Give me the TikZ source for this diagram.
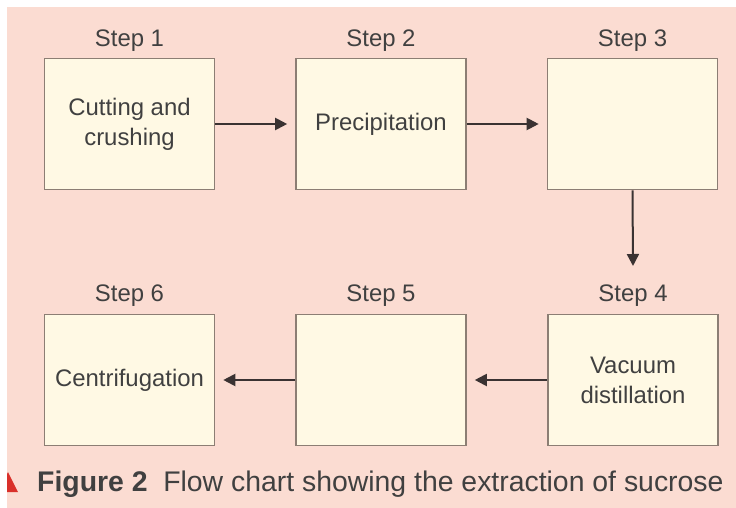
\documentclass[tikz,border=0pt]{standalone}
\usepackage{fontspec}
\setmainfont{Liberation Sans}
\usetikzlibrary{arrows.meta}
\definecolor{bgpink}{HTML}{FBDCD2}
\definecolor{boxfill}{HTML}{FFF9E4}
\definecolor{boxline}{HTML}{8C7E74}
\definecolor{txt}{HTML}{404040}
\definecolor{arr}{HTML}{3A3232}
\definecolor{capred}{HTML}{D9302A}
\tikzset{
  stepbox/.style={draw=boxline, line width=1.6bp, fill=boxfill, minimum width=170bp, minimum height=131bp, inner sep=0pt, align=center, font=\fontsize{24}{30}\selectfont, text=txt},
  steplabel/.style={font=\fontsize{24}{26}\selectfont, text=txt, inner sep=0pt},
  flow/.style={draw=arr, line width=2bp, -{Triangle[length=12bp,width=12bp]}, shorten >=8bp}
}
\begin{document}
\begin{tikzpicture}[x=1bp,y=-1bp]
\useasboundingbox (0,0) rectangle (736,508);
\fill[white] (0,0) rectangle (736,508);
\fill[bgpink] (7,7) rectangle (736,508);
\begin{scope}
\clip (7,0) rectangle (736,508);
\fill[capred] (8,472) -- (18,492) -- (-2,492) -- cycle;
\end{scope}
\node[stepbox] (b1) at (129.5,124) {Cutting and\\crushing};
\node[stepbox] (b2) at (381,124) {Precipitation};
\node[stepbox] (b3) at (632.5,124) {};
\node[stepbox] (b4) at (633,380) {Vacuum\\distillation};
\node[stepbox] (b5) at (381,380) {};
\node[stepbox] (b6) at (129.5,380) {Centrifugation};
\node[steplabel] (s1) at (129.5,41) {Step 1};
\node[steplabel] (s2) at (381,41) {Step 2};
\node[steplabel] (s3) at (632.5,41) {Step 3};
\node[steplabel] (s4) at (633,296) {Step 4};
\node[steplabel] (s5) at (381,296) {Step 5};
\node[steplabel] (s6) at (129.5,296) {Step 6};
\coordinate (v4) at (633,266);
\draw[flow] (b1.east) -- (b2.west);
\draw[flow] (b2.east) -- (b3.west);
\draw[flow, shorten >=0bp] (b3.south) -- (v4);
\draw[flow] (b4.west) -- (b5.east);
\draw[flow] (b5.west) -- (b6.east);
\node[anchor=base west, inner sep=0pt, text=txt, font=\fontsize{28.5}{32}\selectfont] (cap) at (37,491) {\textbf{Figure 2}\hspace{0.55em}Flow chart showing the extraction of sucrose};
\end{tikzpicture}
\end{document}
